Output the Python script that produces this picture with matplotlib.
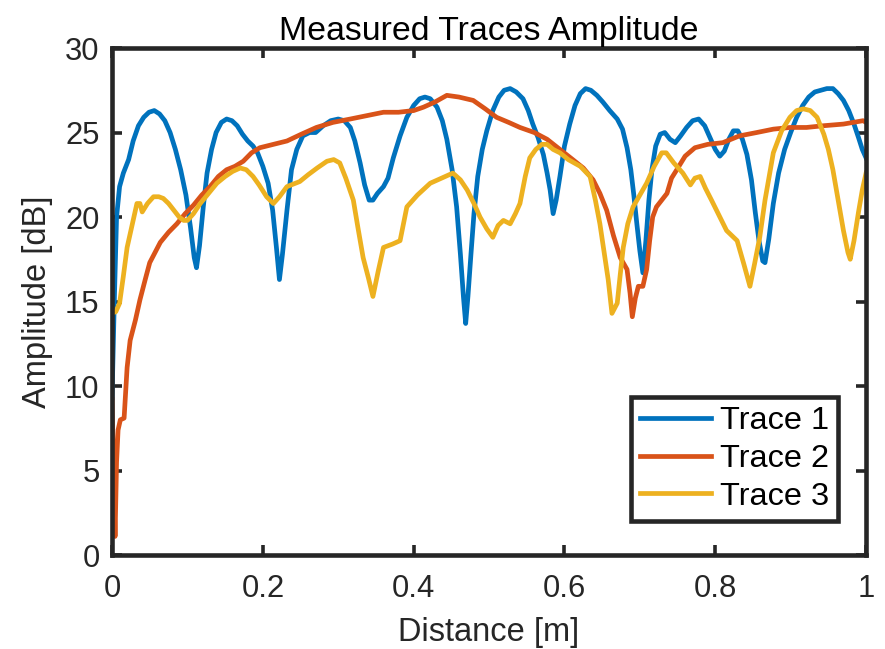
import numpy as np
import matplotlib.pyplot as plt

plt.rcParams['font.family'] = ['Liberation Sans', 'DejaVu Sans']

# trace 1 (blue)
x1 = [0.0, 0.003, 0.006, 0.010, 0.015, 0.022, 0.028, 0.035, 0.042, 0.049, 0.056, 0.063,
      0.070, 0.077, 0.084, 0.091, 0.098, 0.104, 0.109, 0.112, 0.116, 0.121, 0.126, 0.132,
      0.138, 0.145, 0.152, 0.159, 0.166, 0.173, 0.180, 0.187, 0.193, 0.200, 0.207, 0.213,
      0.218, 0.222, 0.226, 0.232, 0.238, 0.245, 0.253, 0.262, 0.270, 0.280, 0.290, 0.300,
      0.308, 0.316, 0.322, 0.329, 0.335, 0.341, 0.346, 0.352, 0.360, 0.366, 0.373, 0.382,
      0.391, 0.400, 0.408, 0.415, 0.422, 0.431, 0.438, 0.444, 0.451, 0.457, 0.462, 0.466,
      0.469, 0.472, 0.476, 0.480, 0.485, 0.491, 0.497, 0.505, 0.513, 0.520, 0.528, 0.536,
      0.545, 0.552, 0.558, 0.565, 0.572, 0.577, 0.581, 0.585, 0.589, 0.594, 0.600, 0.607,
      0.614, 0.621, 0.628, 0.635, 0.643, 0.651, 0.660, 0.670, 0.677, 0.683, 0.688, 0.692,
      0.696, 0.700, 0.704, 0.708, 0.712, 0.716, 0.721, 0.727, 0.733, 0.740, 0.747, 0.754,
      0.762, 0.770, 0.778, 0.786, 0.793, 0.800, 0.806, 0.812, 0.818, 0.824, 0.830, 0.836,
      0.842, 0.848, 0.853, 0.858, 0.863, 0.866, 0.871, 0.877, 0.884, 0.892, 0.900, 0.908,
      0.916, 0.924, 0.932, 0.940, 0.948, 0.956, 0.963, 0.970, 0.977, 0.984, 0.990, 0.995,
      1.0]
y1 = [9.3, 15.0, 20.0, 21.8, 22.6, 23.4, 24.5, 25.4, 25.9, 26.2, 26.3, 26.1,
      25.7, 25.0, 24.0, 22.8, 21.3, 19.4, 17.6, 17.0, 18.3, 20.6, 22.6, 24.0,
      25.0, 25.6, 25.8, 25.7, 25.4, 24.9, 24.5, 24.2, 23.8, 23.0, 22.0, 20.4,
      18.2, 16.3, 17.8, 20.4, 22.8, 24.0, 24.8, 25.0, 25.0, 25.4, 25.7, 25.8,
      25.7, 25.3, 24.5, 23.2, 21.9, 21.0, 21.0, 21.4, 21.8, 22.3, 23.5, 24.8,
      25.9, 26.6, 27.0, 27.1, 27.0, 26.5, 25.7, 24.6, 22.8, 20.6, 17.8, 15.3,
      13.7, 15.3, 17.8, 20.2, 22.4, 24.0, 25.1, 26.3, 27.1, 27.5, 27.6, 27.4,
      27.0, 26.3, 25.5, 24.7, 23.7, 22.6, 21.6, 20.2, 21.0, 22.4, 24.2, 25.5,
      26.6, 27.3, 27.6, 27.5, 27.2, 26.8, 26.3, 25.8, 25.2, 24.1, 22.8, 21.3,
      19.6, 18.0, 16.7, 18.6, 21.0, 22.8, 24.2, 24.9, 25.0, 24.6, 24.4, 24.8,
      25.3, 25.7, 25.8, 25.4, 24.7, 24.0, 23.6, 23.9, 24.6, 25.1, 25.1, 24.6,
      23.7, 22.2, 20.3, 18.6, 17.4, 17.3, 18.7, 20.8, 22.6, 24.0, 25.0, 25.9,
      26.6, 27.1, 27.4, 27.5, 27.6, 27.6, 27.3, 26.9, 26.3, 25.5, 24.7, 24.0,
      23.5]

# trace 2 (orange)
x2 = [0.0, 0.002, 0.004, 0.006, 0.008, 0.011, 0.016, 0.020, 0.024, 0.031, 0.037, 0.044,
      0.050, 0.057, 0.064, 0.075, 0.086, 0.097, 0.108, 0.119, 0.130, 0.141, 0.152, 0.163,
      0.174, 0.185, 0.196, 0.214, 0.232, 0.251, 0.271, 0.293, 0.316, 0.338, 0.360, 0.380,
      0.400, 0.413, 0.428, 0.444, 0.460, 0.479, 0.495, 0.510, 0.526, 0.541, 0.560, 0.577,
      0.594, 0.611, 0.625, 0.638, 0.647, 0.656, 0.665, 0.674, 0.683, 0.687, 0.690, 0.694,
      0.698, 0.704, 0.709, 0.713, 0.717, 0.722, 0.729, 0.736, 0.742, 0.749, 0.760, 0.773,
      0.790, 0.810, 0.832, 0.855, 0.877, 0.899, 0.921, 0.943, 0.970, 0.996, 1.0]
y2 = [9.2, 5.0, 1.1, 5.5, 7.4, 8.0, 8.1, 11.1, 12.7, 13.9, 15.1, 16.3,
      17.3, 17.9, 18.5, 19.1, 19.6, 20.2, 20.7, 21.3, 21.8, 22.4, 22.8, 23.0,
      23.3, 23.8, 24.1, 24.3, 24.5, 24.9, 25.3, 25.6, 25.8, 26.0, 26.2, 26.2,
      26.3, 26.5, 26.8, 27.2, 27.1, 26.9, 26.4, 25.9, 25.6, 25.3, 25.0, 24.6,
      24.0, 23.4, 22.9, 22.2, 21.4, 20.4, 18.9, 17.6, 16.9, 15.5, 14.1, 15.2,
      15.9, 15.9, 16.9, 18.6, 20.0, 20.6, 21.0, 21.4, 22.3, 22.8, 23.6, 24.1,
      24.3, 24.4, 24.8, 25.0, 25.2, 25.3, 25.3, 25.4, 25.5, 25.7, 25.6]

# trace 3 (yellow)
x3 = [0.0, 0.005, 0.010, 0.015, 0.020, 0.027, 0.033, 0.037, 0.040, 0.047, 0.055, 0.062,
      0.068, 0.075, 0.082, 0.089, 0.095, 0.100, 0.108, 0.117, 0.128, 0.139, 0.150, 0.160,
      0.170, 0.178, 0.187, 0.195, 0.205, 0.214, 0.222, 0.232, 0.249, 0.260, 0.272, 0.285,
      0.294, 0.302, 0.310, 0.320, 0.326, 0.333, 0.340, 0.346, 0.353, 0.360, 0.372, 0.382,
      0.391, 0.405, 0.422, 0.437, 0.452, 0.462, 0.471, 0.480, 0.488, 0.497, 0.505, 0.512,
      0.519, 0.528, 0.535, 0.541, 0.548, 0.554, 0.562, 0.570, 0.577, 0.585, 0.594, 0.605,
      0.621, 0.634, 0.641, 0.647, 0.653, 0.658, 0.663, 0.670, 0.674, 0.678, 0.684, 0.691,
      0.700, 0.709, 0.719, 0.729, 0.735, 0.745, 0.757, 0.767, 0.773, 0.780, 0.787, 0.795,
      0.805, 0.815, 0.829, 0.838, 0.846, 0.852, 0.859, 0.866, 0.877, 0.888, 0.899, 0.908,
      0.917, 0.926, 0.935, 0.944, 0.950, 0.956, 0.963, 0.970, 0.976, 0.979, 0.984, 0.990,
      0.995, 1.0]
y3 = [14.3, 14.4, 14.9, 16.5, 18.2, 19.6, 20.8, 20.8, 20.3, 20.8, 21.2, 21.2,
      21.1, 20.8, 20.4, 20.0, 19.8, 19.8, 20.2, 20.8, 21.4, 22.0, 22.4, 22.7,
      22.9, 22.8, 22.4, 21.9, 21.2, 20.8, 21.2, 21.8, 22.1, 22.5, 22.9, 23.3,
      23.4, 23.2, 22.3, 21.0, 19.4, 17.6, 16.4, 15.3, 16.8, 18.2, 18.4, 18.6,
      20.6, 21.3, 22.0, 22.3, 22.6, 22.2, 21.6, 20.8, 20.0, 19.3, 18.8, 19.5,
      19.8, 19.6, 20.2, 20.8, 22.4, 23.5, 24.0, 24.3, 24.3, 24.0, 23.8, 23.4,
      23.0, 22.4, 21.0, 19.6, 17.8, 16.3, 14.3, 14.9, 16.6, 18.2, 19.6, 20.6,
      21.3, 22.0, 23.0, 23.8, 23.8, 23.2, 22.6, 21.9, 22.3, 22.4, 21.7, 21.0,
      20.1, 19.2, 18.6, 17.2, 15.9, 17.2, 18.8, 21.0, 23.8, 25.1, 25.9, 26.3,
      26.4, 26.3, 25.9, 24.9, 24.0, 22.8, 21.0, 19.2, 17.9, 17.5, 18.6, 20.3,
      21.6, 22.6]

labels = ['Trace 1', 'Trace 2', 'Trace 3']
colors = ['#0072BD', '#D95319', '#EDB120']
dark = '#262626'

fig = plt.figure(figsize=(8.85, 6.49), dpi=100)
ax = fig.add_axes([0.1266, 0.1448, 0.852, 0.7812])

for xs, ys, lab, c in zip([x1, x2, x3], [y1, y2, y3], labels, colors):
    ax.plot(xs, ys, color=c, lw=3.4, label=lab, solid_joinstyle='round')

ax.set_xlim(0, 1)
ax.set_ylim(0, 30)
ax.set_xticks(np.arange(0, 1.01, 0.2))
ax.set_xticklabels(['0', '0.2', '0.4', '0.6', '0.8', '1'])
ax.set_yticks(np.arange(0, 31, 5))

for s in ax.spines.values():
    s.set_linewidth(3.3)
    s.set_color(dark)
ax.tick_params(direction='in', length=7, width=2.6, top=True, right=True,
               labelsize=22.3, colors=dark)
ax.tick_params(axis='x', pad=14)
ax.tick_params(axis='y', pad=9)

ax.set_title('Measured Traces Amplitude', fontsize=24.4, pad=6)
ax.set_xlabel('Distance [m]', fontsize=23.5, color=dark, labelpad=9)
ax.set_ylabel('Amplitude [dB]', fontsize=23.5, color=dark, labelpad=9)

leg = ax.legend(loc='upper right', bbox_to_anchor=(0.963, 0.312), fontsize=23.4,
                fancybox=False, framealpha=1, handlelength=2.2,
                borderpad=0.29, labelspacing=0.24, handletextpad=0.25,
                borderaxespad=0)
leg.get_frame().set_edgecolor(dark)
leg.get_frame().set_linewidth(3.3)

fig.savefig('out.png', dpi=100)
